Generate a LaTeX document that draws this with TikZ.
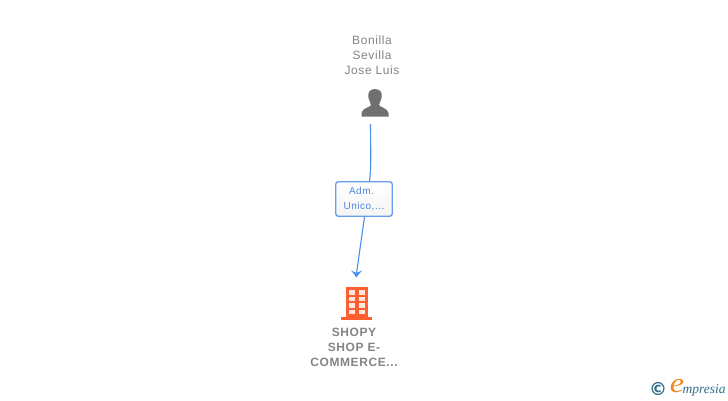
\documentclass[tikz,border=0pt]{standalone}
\usepackage{fontspec}
\setmainfont{Liberation Sans}[LetterSpace=5]
\newfontfamily\logofont{Liberation Serif}
\newfontfamily\copyfont{DejaVu Sans}
\usetikzlibrary{arrows.meta}
\definecolor{txtgrey}{HTML}{858585}
\definecolor{icongrey}{HTML}{707070}
\definecolor{linkblue}{HTML}{4A8CE8}
\definecolor{boxtext}{HTML}{4A86E0}
\definecolor{orangeb}{HTML}{FF5F30}
\definecolor{logoblue}{HTML}{2F6F8F}
\definecolor{logoorange}{HTML}{F08A1D}
\tikzset{
  x=1pt,y=-1pt,
  lbl/.style={font=\fontsize{12}{15}\selectfont,text=txtgrey,align=center,inner sep=0pt},
  lblb/.style={font=\fontsize{12}{15}\selectfont\bfseries,text=txtgrey,align=center,inner sep=0pt},
  rolebox/.style={draw=linkblue!85,line width=1.3pt,rounded corners=2.5pt,top color=white,bottom color=black!4,
    minimum width=56.5pt,minimum height=34.5pt,inner sep=0pt,align=center,
    font=\fontsize{10}{15}\selectfont,text=boxtext},
  link/.style={draw=linkblue,line width=1.1pt},
  anchorpt/.style={inner sep=0pt,minimum size=28pt},
}
\begin{document}
\begin{tikzpicture}
\useasboundingbox (0,0) rectangle (728,400);
\fill[white] (0,0) rectangle (728,400);
\node[lbl] (pname) at (372,55) {Bonilla\\Sevilla\\Jose Luis};
\node[anchorpt] (person) at (375,103) {};
\node[rolebox] (role) at (364,199) {\raisebox{-1pt}{Adm.\hspace{5pt}}\\\raisebox{-1pt}{Unico,...}};
\node[anchorpt] (firm) at (356,303) {};
\coordinate (tip) at (356,277);
\node[lblb] (fname) at (354,347) {SHOPY\\SHOP E-\\COMMERCE...};
% person icon
\fill[icongrey] (375,89) .. controls (369,89) and (367.5,93.5) .. (368.5,98)
  .. controls (369,101) and (371,103) .. (371,105)
  .. controls (371,107) and (362,108) .. (361.5,113) -- (361.5,116.5) -- (388.5,116.5) -- (388.5,113)
  .. controls (388,108) and (379,107) .. (379,105)
  .. controls (379,103) and (381,101) .. (381.5,98)
  .. controls (382.5,93.5) and (381,89) .. (375,89) -- cycle;
% building icon
\fill[orangeb] (345.5,287) rectangle (368,317);
\fill[orangeb] (341,317) rectangle (372,319.5);
\foreach \yy in {290,296.5,303,309.5}{
  \fill[white!85!orangeb] (349,\yy) rectangle (354.5,\yy+4.5);
  \fill[white!85!orangeb] (359,\yy) rectangle (364.5,\yy+4.5);
}
% connectors
\draw[link] (370.5,124) .. controls (370.5,145) and (371.5,165) .. (role.north -| 369.5,0);
\draw[link] (role.south -| 364.5,0) -- (tip);
\fill[linkblue] (351,270.5) -- (356.5,273) -- (362,270.5) -- (356.5,277) -- cycle;
% logo
\node[inner sep=0pt,font=\copyfont\fontsize{18}{18}\selectfont\bfseries,text=logoblue] (copy) at (658,389) {©};
\node[inner sep=0pt,font=\logofont\fontsize{28}{28}\selectfont\itshape,text=logoorange,xscale=1.15] (elogo) at (677,386.5) {e};
\node[inner sep=0pt,anchor=west,font=\logofont\fontsize{13.5}{14}\selectfont\itshape,text=logoblue] (mlogo) at (682.5,390) {mpresia};
\end{tikzpicture}
\end{document}
